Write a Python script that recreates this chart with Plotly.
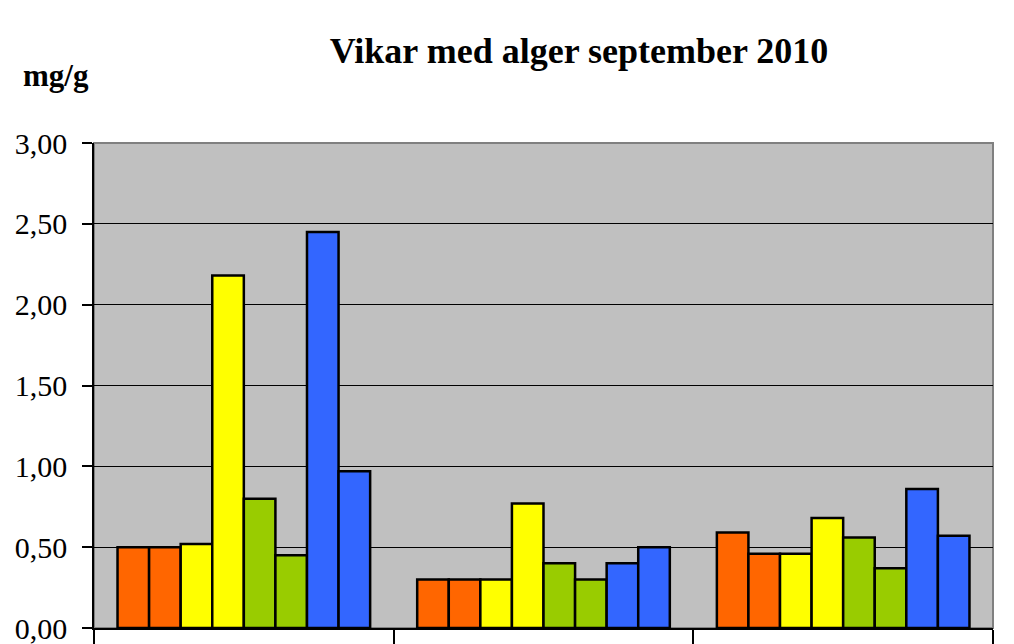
import plotly.graph_objects as go

# Data
categories = ["Vik 1", "Vik 2", "Vik 3"]
series_names = ["Serie 1", "Serie 2", "Serie 3", "Serie 4",
                "Serie 5", "Serie 6", "Serie 7", "Serie 8"]
serie_1 = [0.50, 0.30, 0.59]
serie_2 = [0.50, 0.30, 0.46]
serie_3 = [0.52, 0.30, 0.46]
serie_4 = [2.18, 0.77, 0.68]
serie_5 = [0.80, 0.40, 0.56]
serie_6 = [0.45, 0.30, 0.37]
serie_7 = [2.45, 0.40, 0.86]
serie_8 = [0.97, 0.50, 0.57]
y_ticks = [0.0, 0.5, 1.0, 1.5, 2.0, 2.5, 3.0]

series_values = [serie_1, serie_2, serie_3, serie_4,
                 serie_5, serie_6, serie_7, serie_8]
colors = ["#FF6600", "#FF6600", "#FFFF00", "#FFFF00",
          "#99CC00", "#99CC00", "#3366FF", "#3366FF"]

fig = go.Figure()
for name, vals, col in zip(series_names, series_values, colors):
    fig.add_trace(go.Bar(
        x=categories, y=vals, name=name,
        marker=dict(color=col, line=dict(color="black", width=2.5)),
    ))

serif = "Liberation Serif, Times New Roman, serif"

fig.update_layout(
    width=1014, height=644,
    margin=dict(l=94, r=21, t=143, b=16, autoexpand=False),
    paper_bgcolor="white",
    plot_bgcolor="#C0C0C0",
    barmode="group",
    bargap=0.157,
    bargroupgap=0,
    showlegend=False,
    separators=", ",
    title=dict(
        text="Vikar med alger september 2010",
        font=dict(family=serif, size=36, color="black", weight="bold"),
        xref="container", x=0.571, xanchor="center",
        yref="container", y=0.922, yanchor="middle",
    ),
    xaxis=dict(
        type="category",
        showticklabels=False,
        ticks="outside", tickson="boundaries", ticklen=16,
        tickcolor="black", tickwidth=1.5,
        showline=True, linecolor="black", linewidth=1.5,
        showgrid=False, zeroline=False,
    ),
    yaxis=dict(
        range=[0, 3],
        tickvals=y_ticks,
        tickformat=".2f",
        ticks="outside", ticklen=10, tickcolor="black", tickwidth=1.5,
        ticklabelstandoff=9,
        ticklabeloverflow="allow",
        tickfont=dict(family=serif, size=30, color="black"),
        showline=True, linecolor="black", linewidth=1.5,
        showgrid=True, gridcolor="black", gridwidth=1,
        zeroline=False,
    ),
    shapes=[dict(
        type="rect", xref="paper", yref="paper", x0=0, x1=1, y0=0, y1=1,
        line=dict(color="#808080", width=2), layer="below",
    )],
    annotations=[dict(
        text="<b>mg/g</b>", xref="paper", yref="paper",
        x=-0.042, y=1.14, xanchor="center", yanchor="middle",
        showarrow=False,
        font=dict(family=serif, size=31, color="black"),
    )],
)

fig.write_html(
    "out.html",
    config={"displayModeBar": False},
    post_script="document.body.style.margin='0';document.body.style.overflow='hidden';",
)
